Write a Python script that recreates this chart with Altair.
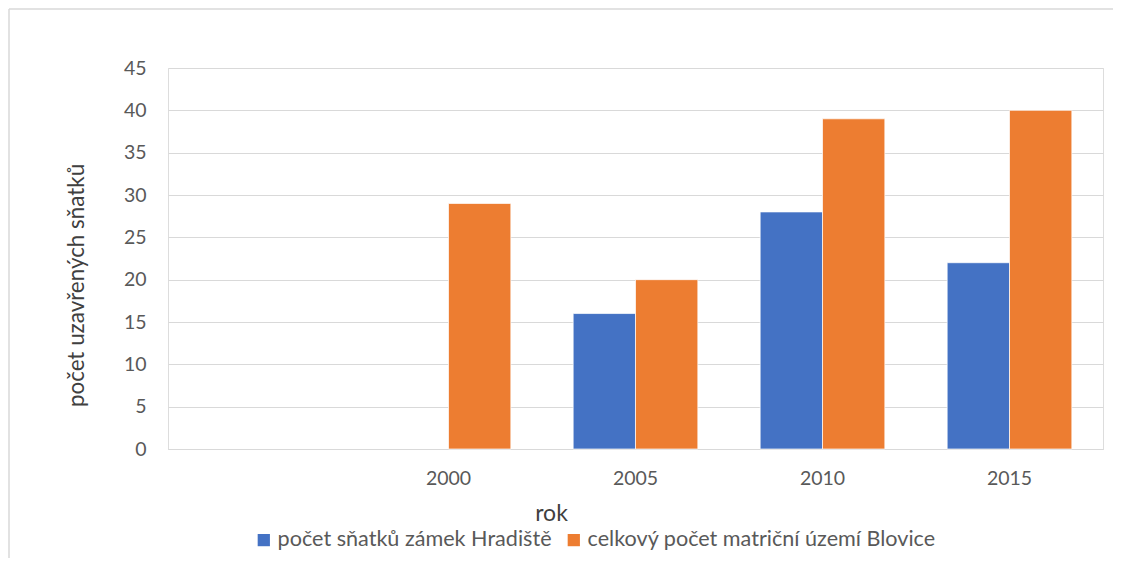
import altair as alt
import pandas as pd

years = ["", "2000", "2005", "2010", "2015"]
series_names = ["počet sňatků zámek Hradiště", "celkový počet matriční území Blovice"]
hradiste = [None, None, 16, 28, 22]
blovice = [None, 29, 20, 39, 40]
colors = ["#4472C4", "#ED7D31"]
y_ticks = [0, 5, 10, 15, 20, 25, 30, 35, 40, 45]

rows = []
for name, vals in zip(series_names, [hradiste, blovice]):
    for yr, v in zip(years, vals):
        if v is not None:
            rows.append({"rok": yr, "serie": name, "hodnota": v})
df = pd.DataFrame(rows)

FONT = "Lato"
W, H = 935, 381

bars = alt.Chart(df).mark_bar(stroke="white", strokeWidth=0.7).encode(
    x=alt.X("rok:N", sort=years,
            scale=alt.Scale(domain=years, paddingInner=0, paddingOuter=0),
            axis=alt.Axis(title="rok", labelAngle=0, ticks=False, domain=True,
                          domainColor="#d9d9d9", labelFontSize=19.5, labelColor="#595959",
                          labelPadding=20, labelFont=FONT,
                          titleFont=FONT, titleFontSize=23, titleFontWeight="normal",
                          titleColor="#404040", titleX=383, titleY=64,
                          titleBaseline="middle", titleAlign="center")),
    xOffset=alt.XOffset("serie:N", sort=series_names,
                        scale=alt.Scale(domain=series_names, paddingInner=0, paddingOuter=0.5)),
    y=alt.Y("hodnota:Q",
            scale=alt.Scale(domain=[0, 45], nice=False),
            axis=alt.Axis(title="počet uzavřených sňatků", values=y_ticks, ticks=False,
                          domain=False, grid=True, gridColor="#d9d9d9", gridWidth=1,
                          labelFontSize=19.5, labelColor="#595959", labelPadding=22,
                          labelFont=FONT, titleFont=FONT, titleFontSize=22.4,
                          titleFontWeight="normal", titleColor="#404040",
                          titleX=-92, titleY=217, titleBaseline="middle",
                          titleAlign="center")),
    color=alt.Color("serie:N", sort=series_names,
                    scale=alt.Scale(domain=series_names, range=colors),
                    legend=alt.Legend(title=None, orient="none", legendX=85, legendY=461,
                                      direction="horizontal", symbolType="square",
                                      symbolSize=150, symbolStrokeWidth=0,
                                      labelFont=FONT, labelFontSize=21.6, labelLimit=0,
                                      labelColor="#595959", columnPadding=11,
                                      labelOffset=3)),
)

frame_top = alt.Chart(pd.DataFrame({"a": [0]})).mark_rule(color="#d9d9d9", strokeWidth=1.5, clip=False).encode(
    x=alt.value(-159), x2=alt.value(W + 60), y=alt.value(-59))
frame_left = alt.Chart(pd.DataFrame({"a": [0]})).mark_rule(color="#d9d9d9", strokeWidth=1.5, clip=False).encode(
    x=alt.value(-159), y=alt.value(-59), y2=alt.value(H + 120))

chart = alt.layer(frame_top, frame_left, bars).properties(
    width=W, height=H,
    autosize=alt.AutoSizeParams(type="none"),
    padding={"left": 160, "top": 60, "right": 10, "bottom": 109},
).configure_view(stroke=None).configure(background="white")

chart.save("out.html", embed_options={"renderer": "svg", "actions": False})
